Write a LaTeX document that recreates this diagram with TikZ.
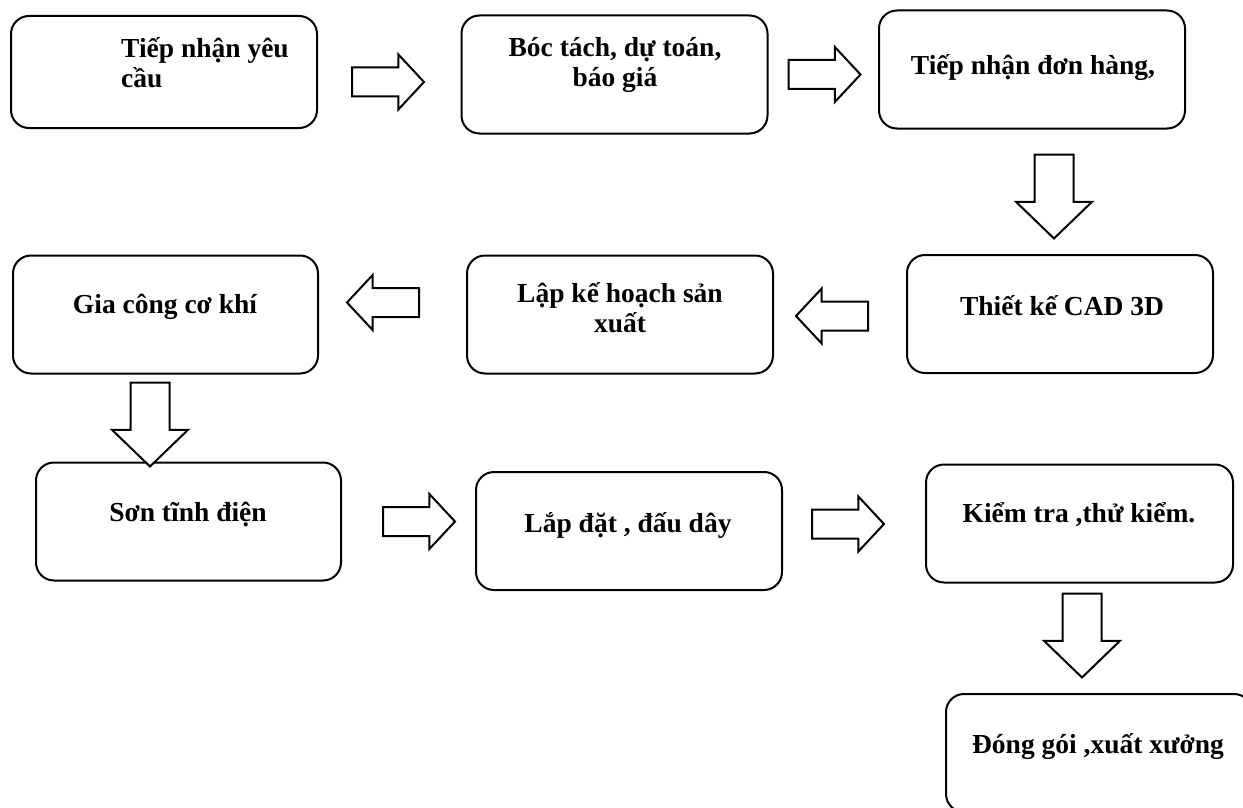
\documentclass[tikz,border=0pt]{standalone}
\usepackage{fontspec}
\setmainfont{Liberation Serif}
\usepackage{tikz}
\usetikzlibrary{shapes.arrows,calc,positioning}
\tikzstyle{stepbox} = [draw, line width=2pt, rounded corners=18pt, minimum width=306pt, minimum height=118pt, inner sep=0pt]
\tikzstyle{steptext} = [font=\fontsize{27.5}{30}\selectfont\bfseries, inner sep=0pt]
\tikzstyle{blockarrow} = [draw, line width=2pt, fill=white, single arrow, inner xsep=0pt]
\tikzstyle{harrow} = [blockarrow, minimum height=72pt, inner ysep=13.5pt, single arrow head extend=13pt, single arrow tip angle=94]
\tikzstyle{varrow} = [blockarrow, rotate=-90, minimum height=84pt, inner ysep=18.5pt, single arrow head extend=18.5pt, single arrow tip angle=92]

\begin{document}
\begin{tikzpicture}[x=1pt, y=-1pt]
\useasboundingbox (0,0) rectangle (1243,808);
\clip (0,0) rectangle (1243,808);

% Row 1
\node[stepbox, minimum height=112pt] (b1) at (164,72) {};
\node[stepbox] (b2) at (614.5,74.5) {};
\node[stepbox] (b3) at (1032,69.5) {};
\node[steptext, anchor=base west, align=left] (t1) at (121,88) {Tiếp nhận yêu\\cầu};
\node[steptext, anchor=base, align=center] (t2) at (615,87) {Bóc tách, dự toán,\\báo giá};
\node[steptext, anchor=base] (t3) at (1033,75) {Tiếp nhận đơn hàng,};

% Row 2
\node[stepbox] (b4) at (1060,314) {};
\node[stepbox] (b5) at (620,314.5) {};
\node[stepbox, minimum width=305pt] (b6) at (165.5,314.5) {};
\node[steptext, anchor=base] (t4) at (1062,315) {Thiết kế CAD 3D};
\node[steptext, anchor=base, align=center] (t5) at (620,332) {Lập kế hoạch sản\\xuất};
\node[steptext, anchor=base] (t6) at (165,313) {Gia công cơ khí};

% Row 3
\node[stepbox, minimum width=305pt] (b7) at (188.5,521.5) {};
\node[stepbox] (b8) at (629,531) {};
\node[stepbox, minimum width=307pt] (b9) at (1079.5,523.5) {};
\node[steptext, anchor=base] (t7) at (188,521) {Sơn tĩnh điện};
\node[steptext, anchor=base] (t8) at (628,532) {Lắp đặt , đấu dây};
\node[steptext, anchor=base] (t9) at (1079,522) {Kiểm tra ,thử kiểm.};

% Last step
\node[stepbox] (b10) at (1099,753) {};
\node[steptext, anchor=base] (t10) at (1098,753) {Đóng gói ,xuất xưởng};

% Block arrows
\node[harrow, anchor=tail] (a12) at ([shift={(33,10)}]b1.east) {};
\node[harrow, anchor=tail] (a23) at ([shift={(19,0)}]b2.east) {};
\node[varrow, anchor=tail] (a34) at ([shift={(22,24)}]b3.south) {};
\node[harrow, rotate=180, anchor=tail] (a45) at ([shift={(-37,2)}]b4.west) {};
\node[harrow, rotate=180, anchor=tail] (a56) at ([shift={(-46,-12)}]b5.west) {};
\node[varrow, anchor=tail] (a67) at ([shift={(-15.5,7)}]b6.south) {};
\node[harrow, anchor=tail] (a78) at ([shift={(40,0)}]b7.east) {};
\node[harrow, anchor=tail] (a89) at ([shift={(28,-7)}]b8.east) {};
\node[varrow, anchor=tail] (a910) at ([shift={(2.5,9)}]b9.south) {};
\end{tikzpicture}
\end{document}
